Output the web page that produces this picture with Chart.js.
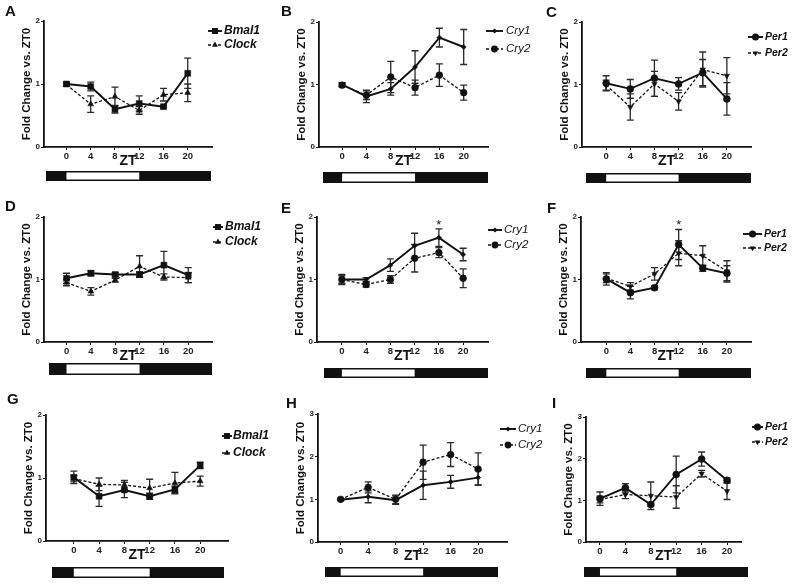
<!DOCTYPE html>
<html>
<head>
<meta charset="utf-8">
<script src="https://cdn.jsdelivr.net/npm/chart.js@4.4.1/dist/chart.umd.min.js"></script>
<style>
  html, body { margin: 0; padding: 0; background: #fff; }
  #wrap { position: relative; width: 800px; height: 585px; overflow: hidden; }
  #wrap canvas { position: absolute; left: 0; top: 0; }
</style>
</head>
<body>
<div id="wrap"></div>
<script>
// time points (ZT)
const zt = [0, 4, 8, 12, 16, 20];

// panel A
const bmal1A = [1.00, 0.96, 0.60, 0.69, 0.64, 1.17];
const bmal1A_err = [0.03, 0.07, 0.06, 0.12, 0.02, 0.24];
const clockA = [0.99, 0.68, 0.80, 0.58, 0.83, 0.86];
const clockA_err = [0.02, 0.13, 0.15, 0.06, 0.10, 0.14];
// panel B
const cry1B = [1.00, 0.81, 0.93, 1.28, 1.75, 1.60];
const cry1B_err = [0.03, 0.10, 0.10, 0.26, 0.15, 0.28];
const cry2B = [0.99, 0.83, 1.12, 0.95, 1.15, 0.87];
const cry2B_err = [0.03, 0.07, 0.25, 0.12, 0.18, 0.12];
// panel C
const per1C = [1.02, 0.93, 1.10, 1.01, 1.19, 0.77];
const per1C_err = [0.12, 0.15, 0.29, 0.10, 0.21, 0.26];
const per2C = [0.99, 0.64, 1.01, 0.73, 1.24, 1.14];
const per2C_err = [0.08, 0.21, 0.20, 0.14, 0.28, 0.29];
// panel D
const bmal1D = [1.02, 1.10, 1.08, 1.08, 1.23, 1.07];
const bmal1D_err = [0.08, 0.04, 0.03, 0.04, 0.22, 0.12];
const clockD = [0.95, 0.81, 0.99, 1.21, 1.04, 1.03];
const clockD_err = [0.05, 0.06, 0.03, 0.17, 0.05, 0.08];
// panel E
const cry1E = [1.00, 1.00, 1.23, 1.54, 1.67, 1.40];
const cry1E_err = [0.08, 0.03, 0.10, 0.20, 0.14, 0.10];
const cry2E = [1.00, 0.92, 1.00, 1.34, 1.43, 1.02];
const cry2E_err = [0.06, 0.04, 0.06, 0.22, 0.08, 0.15];
// panel F
const per1F = [1.01, 0.79, 0.87, 1.56, 1.18, 1.10];
const per1F_err = [0.10, 0.10, 0.03, 0.24, 0.05, 0.12];
const per2F = [1.02, 0.89, 1.09, 1.42, 1.38, 1.13];
const per2F_err = [0.07, 0.06, 0.10, 0.20, 0.16, 0.17];
// panel G
const bmal1G = [1.01, 0.71, 0.81, 0.71, 0.82, 1.20];
const bmal1G_err = [0.10, 0.16, 0.12, 0.05, 0.05, 0.05];
const clockG = [0.99, 0.90, 0.89, 0.84, 0.92, 0.95];
const clockG_err = [0.05, 0.10, 0.07, 0.14, 0.17, 0.08];
// panel H
const cry1H = [0.99, 1.06, 0.98, 1.33, 1.41, 1.51];
const cry1H_err = [0.02, 0.14, 0.10, 0.33, 0.15, 0.17];
const cry2H = [1.00, 1.28, 1.00, 1.87, 2.05, 1.71];
const cry2H_err = [0.02, 0.13, 0.10, 0.40, 0.28, 0.38];
// panel I
const per1I = [1.04, 1.30, 0.90, 1.62, 1.99, 1.48];
const per1I_err = [0.16, 0.10, 0.04, 0.44, 0.17, 0.06];
const per2I = [1.02, 1.14, 1.11, 1.08, 1.64, 1.22];
const per2I_err = [0.08, 0.10, 0.33, 0.27, 0.08, 0.20];

const yTicks2 = [0, 1, 2];
const yTicks3 = [0, 1, 2, 3];
const lightOn = 0, lightOff = 12;

const FONT = '"Liberation Sans", Arial, sans-serif';
Chart.defaults.font.family = FONT;
Chart.defaults.color = '#111';

function serie(label, vals, errs, dashed, marker, radius, rotation) {
  return {
    label: label,
    data: zt.map((t, i) => ({ x: t, y: vals[i] })),
    errors: errs,
    borderColor: '#111',
    backgroundColor: '#111',
    borderWidth: dashed ? 1.3 : 1.9,
    borderDash: dashed ? [3, 2] : [],
    pointStyle: marker,
    pointRadius: radius,
    pointRotation: rotation || 0,
    pointBackgroundColor: '#111',
    pointBorderColor: '#111',
    pointBorderWidth: 0.5,
    tension: 0
  };
}

const bmalSets = (a, ae, c, ce) => [serie('Bmal1', a, ae, false, 'rect', 4.2), serie('Clock', c, ce, true, 'triangle', 3.4)];
const crySets = (a, ae, c, ce) => [serie('Cry1', a, ae, false, 'rectRot', 2.6), serie('Cry2', c, ce, true, 'circle', 3.4)];
const perSets = (a, ae, c, ce) => [serie('Per1', a, ae, false, 'circle', 3.5), serie('Per2', c, ce, true, 'triangle', 3.2, 180)];

// layout of the 9 panels (page pixels)
const panels = [
  { letter: 'A', lx: 5, ly: 12, box: [44, 21, 212, 147], xr: [-3.7, 24], yt: yTicks2, bar: [46, 211, 24, 10],
    leg: { x0: 208, x1: 222, tx: 224, y: [31, 45], font: 'bold italic 12px ' + FONT }, sets: bmalSets(bmal1A, bmal1A_err, clockA, clockA_err) },
  { letter: 'B', lx: 281, ly: 12, box: [319, 22, 488, 147], xr: [-3.8, 24], yt: yTicks2, bar: [323, 488, 25, 11],
    leg: { x0: 486, x1: 503, tx: 506, y: [31, 49], font: 'italic 11.5px ' + FONT }, sets: crySets(cry1B, cry1B_err, cry2B, cry2B_err) },
  { letter: 'C', lx: 546, ly: 13, box: [582, 22, 751, 147], xr: [-4, 24], yt: yTicks2, bar: [586, 751, 26, 10],
    leg: { x0: 748, x1: 763, tx: 765, y: [37, 53], font: 'bold italic 10.5px ' + FONT }, sets: perSets(per1C, per1C_err, per2C, per2C_err) },
  { letter: 'D', lx: 5, ly: 207, box: [44, 217, 212, 342], xr: [-3.7, 23.9], yt: yTicks2, bar: [49, 212, 21, 12],
    leg: { x0: 213, x1: 223, tx: 225, y: [227, 242], font: 'bold italic 12px ' + FONT }, sets: bmalSets(bmal1D, bmal1D_err, clockD, clockD_err) },
  { letter: 'E', lx: 281, ly: 209, box: [317, 217, 488, 342], xr: [-4.1, 24.1], yt: yTicks2, bar: [324, 488, 26, 10],
    leg: { x0: 488, x1: 502, tx: 504, y: [230, 245], font: 'italic 11.5px ' + FONT }, sets: crySets(cry1E, cry1E_err, cry2E, cry2E_err),
    star: { at: 16, v: 1.92 } },
  { letter: 'F', lx: 547, ly: 209, box: [581, 217, 751, 342], xr: [-4.2, 24], yt: yTicks2, bar: [586, 751, 26, 10],
    leg: { x0: 743, x1: 762, tx: 764, y: [234, 248], font: 'bold italic 10.5px ' + FONT }, sets: perSets(per1F, per1F_err, per2F, per2F_err),
    star: { at: 12, v: 1.92 } },
  { letter: 'G', lx: 7, ly: 400, box: [46, 415, 228, 541], xr: [-4.4, 24.4], yt: yTicks2, bar: [52, 224, 26, 11],
    leg: { x0: 222, x1: 232, tx: 233, y: [436, 453], font: 'bold italic 12px ' + FONT }, sets: bmalSets(bmal1G, bmal1G_err, clockG, clockG_err) },
  { letter: 'H', lx: 286, ly: 404, box: [318, 414, 507, 542], xr: [-3.3, 24.2], yt: yTicks3, bar: [325, 498, 25, 10],
    leg: { x0: 500, x1: 516, tx: 518, y: [429, 445], font: 'italic 11.5px ' + FONT }, sets: crySets(cry1H, cry1H_err, cry2H, cry2H_err) },
  { letter: 'I', lx: 552, ly: 404, box: [586, 417, 741, 542], xr: [-2.2, 22.2], yt: yTicks3, bar: [584, 748, 25, 10],
    leg: { x0: 752, x1: 763, tx: 765, y: [427, 442], font: 'bold italic 10.5px ' + FONT }, sets: perSets(per1I, per1I_err, per2I, per2I_err) }
];

function drawMarker(ctx, ds, x, y) {
  const r = ds.pointRadius;
  ctx.save();
  ctx.translate(x, y);
  ctx.rotate((ds.pointRotation || 0) * Math.PI / 180);
  ctx.fillStyle = '#111';
  ctx.setLineDash([]);
  ctx.beginPath();
  if (ds.pointStyle === 'rect') {
    const s = r * Math.SQRT1_2;
    ctx.rect(-s, -s, 2 * s, 2 * s);
  } else if (ds.pointStyle === 'rectRot') {
    ctx.moveTo(0, -r); ctx.lineTo(r, 0); ctx.lineTo(0, r); ctx.lineTo(-r, 0); ctx.closePath();
  } else if (ds.pointStyle === 'triangle') {
    ctx.moveTo(0, -r); ctx.lineTo(r * 0.87, r * 0.5); ctx.lineTo(-r * 0.87, r * 0.5); ctx.closePath();
  } else {
    ctx.arc(0, 0, r, 0, Math.PI * 2);
  }
  ctx.fill();
  ctx.restore();
}

const extras = {
  id: 'extras',
  beforeDatasetsDraw(chart, args, p) {
    const { ctx } = chart;
    const x = chart.scales.x, y = chart.scales.y;
    ctx.save();
    ctx.strokeStyle = '#2b2b2b';
    ctx.lineWidth = 1.3;
    chart.data.datasets.forEach(ds => {
      ds.data.forEach((pt, i) => {
        const e = ds.errors[i];
        const px = x.getPixelForValue(pt.x);
        const top = y.getPixelForValue(pt.y + e);
        const bot = y.getPixelForValue(pt.y - e);
        ctx.beginPath();
        ctx.moveTo(px, top); ctx.lineTo(px, bot);
        ctx.moveTo(px - 3.5, top); ctx.lineTo(px + 3.5, top);
        ctx.moveTo(px - 3.5, bot); ctx.lineTo(px + 3.5, bot);
        ctx.stroke();
      });
    });
    ctx.restore();
  },
  afterDraw(chart, args, p) {
    const { ctx, chartArea } = chart;
    const x = chart.scales.x, y = chart.scales.y;
    ctx.save();
    // panel letter
    ctx.fillStyle = '#111';
    ctx.font = 'bold 15px ' + FONT;
    ctx.textBaseline = 'middle';
    ctx.textAlign = 'left';
    ctx.fillText(p.letter, p.lx, p.ly);

    // light / dark bar
    const [bl, br, boff, bh] = p.bar;
    const bt = chartArea.bottom + boff;
    ctx.fillStyle = '#111';
    ctx.fillRect(bl, bt, br - bl, bh);
    ctx.fillStyle = '#fff';
    const w0 = x.getPixelForValue(lightOn), w1 = x.getPixelForValue(lightOff);
    ctx.fillRect(w0, bt + 1.5, w1 - w0, bh - 3);

    // legend
    const lg = p.leg;
    chart.data.datasets.forEach((ds, i) => {
      const ly = lg.y[i];
      ctx.strokeStyle = '#111';
      ctx.lineWidth = ds.borderWidth;
      ctx.setLineDash(ds.borderDash);
      ctx.beginPath();
      ctx.moveTo(lg.x0, ly); ctx.lineTo(lg.x1, ly);
      ctx.stroke();
      drawMarker(ctx, ds, (lg.x0 + lg.x1) / 2, ly);
      ctx.fillStyle = '#111';
      ctx.font = lg.font;
      ctx.textAlign = 'left';
      ctx.textBaseline = 'middle';
      ctx.fillText(ds.label, lg.tx, ly);
    });

    // significance star
    if (p.star) {
      ctx.font = '13px ' + FONT;
      ctx.textAlign = 'center';
      ctx.textBaseline = 'middle';
      ctx.fillText('*', x.getPixelForValue(p.star.at), y.getPixelForValue(p.star.v) + 3);
    }
    ctx.restore();
  }
};

const wrap = document.getElementById('wrap');
const Y_W = 24, X_H = 21;

panels.forEach(p => {
  const cv = document.createElement('canvas');
  cv.width = 800; cv.height = 585;
  cv.style.width = '800px'; cv.style.height = '585px';
  wrap.appendChild(cv);
  const [l, t, r, b] = p.box;
  const ymax = p.yt[p.yt.length - 1];

  new Chart(cv, {
    type: 'line',
    data: { datasets: p.sets },
    options: {
      responsive: false,
      animation: false,
      events: [],
      layout: { padding: { left: l - Y_W, top: t, right: 800 - r, bottom: 585 - b - X_H } },
      plugins: { legend: { display: false }, tooltip: { enabled: false }, extras: p },
      scales: {
        x: {
          type: 'linear',
          min: p.xr[0], max: p.xr[1],
          afterBuildTicks: s => { s.ticks = zt.map(v => ({ value: v })); },
          afterFit: s => { s.height = X_H; s.paddingLeft = 0; s.paddingRight = 0; },
          grid: { display: true, drawOnChartArea: false, drawTicks: true, tickLength: 3, color: '#111', lineWidth: 1 },
          border: { display: true, color: '#111', width: 1.8 },
          ticks: { font: { size: 9.5, weight: 'bold' }, color: '#222', padding: 1, maxRotation: 0, autoSkip: false },
          title: { display: true, text: 'ZT', font: { size: 14, weight: 'bold', lineHeight: 1 }, padding: 0, color: '#111' }
        },
        y: {
          min: 0, max: ymax,
          afterBuildTicks: s => { s.ticks = p.yt.map(v => ({ value: v })); },
          afterFit: s => { s.width = Y_W; s.paddingTop = 0; s.paddingBottom = 0; },
          grid: { display: true, drawOnChartArea: false, drawTicks: true, tickLength: 3, color: '#111', lineWidth: 1 },
          border: { display: true, color: '#111', width: 1.8 },
          ticks: { font: { size: 8, weight: 'bold' }, color: '#222', padding: 1 },
          title: { display: true, text: 'Fold Change vs. ZT0', font: { size: 11.5, weight: 'bold', lineHeight: 1.2 }, padding: 0, color: '#111' }
        }
      }
    },
    plugins: [extras]
  });
});
</script>
</body>
</html>
